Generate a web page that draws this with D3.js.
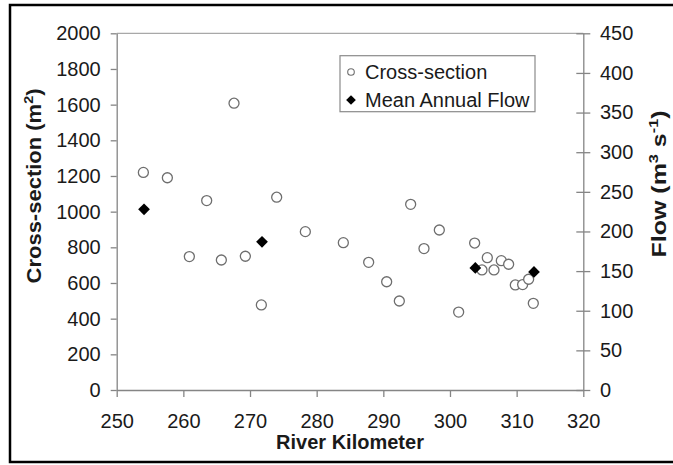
<!DOCTYPE html>
<meta charset="utf-8">
<style>
body { margin: 0; background: #fff; }
text { font-family: "Liberation Sans", Arial, sans-serif; fill: #1a1a1a; }
.axis text { font-size: 20px; }
.axis path, .axis line { stroke: #858585; stroke-width: 1.3px; }
.title { font-size: 20px; font-weight: bold; }
</style>
<body>
<svg width="673" height="465"></svg>
<script src="https://cdn.jsdelivr.net/npm/d3@7"></script>
<script>
// cross-section points (river km, area m2)
var csKm = [254.0, 257.6, 260.9, 263.5, 265.7, 267.6, 269.3, 271.7, 274.0, 278.3,
            284.0, 287.8, 290.5, 292.4, 294.1, 296.1, 298.4, 301.3, 303.7, 304.8,
            305.6, 306.6, 307.7, 308.8, 309.8, 310.9, 311.8, 312.5];
var csArea = [1220, 1190, 748, 1062, 729, 1608, 750, 477, 1081, 888,
              826, 716, 607, 499, 1041, 793, 897, 437, 824, 673,
              742, 673, 725, 705, 589, 591, 621, 486];
// mean annual flow (river km, m3/s) on right axis
var flowKm = [254.1, 271.8, 303.8, 312.6];
var flowVal = [228, 187, 154, 149];

var xTicks = [250, 260, 270, 280, 290, 300, 310, 320];
var leftTicks = [0, 200, 400, 600, 800, 1000, 1200, 1400, 1600, 1800, 2000];
var rightTicks = [0, 50, 100, 150, 200, 250, 300, 350, 400, 450];

var svg = d3.select("svg");
var fmt = d3.format("d");

var x = d3.scaleLinear().domain([250, 320]).range([116.7, 583.3]);
var yL = d3.scaleLinear().domain([0, 2000]).range([390, 33.3]);
var yR = d3.scaleLinear().domain([0, 450]).range([390, 33.3]);

// outer frame
svg.append("rect")
    .attr("x", 10).attr("y", 5).attr("width", 700).attr("height", 457)
    .attr("fill", "none").attr("stroke", "#000").attr("stroke-width", 2.5);

// top border of plot area
svg.append("line")
    .attr("x1", x(250)).attr("x2", x(320))
    .attr("y1", yL(2000)).attr("y2", yL(2000))
    .attr("stroke", "#a8a8a8").attr("stroke-width", 1.2);

svg.append("g").attr("class", "axis")
    .attr("transform", "translate(0," + yL(0) + ")")
    .call(d3.axisBottom(x).tickValues(xTicks).tickFormat(fmt)
        .tickSize(7).tickSizeOuter(0).tickPadding(17));

svg.append("g").attr("class", "axis")
    .attr("transform", "translate(" + x(250) + ",0)")
    .call(d3.axisLeft(yL).tickValues(leftTicks).tickFormat(fmt)
        .tickSize(6).tickSizeOuter(0).tickPadding(10));

var right = svg.append("g").attr("class", "axis")
    .attr("transform", "translate(" + x(320) + ",0)")
    .call(d3.axisRight(yR).tickValues(rightTicks).tickFormat(fmt)
        .tickSize(7).tickSizeOuter(0).tickPadding(9.7));
right.selectAll(".tick line").attr("x1", -7); // ticks cross the axis

// cross-section circles
svg.append("g").selectAll("circle")
    .data(csKm)
    .enter().append("circle")
    .attr("cx", function(d) { return x(d); })
    .attr("cy", function(d, i) { return yL(csArea[i]); })
    .attr("r", 5)
    .attr("fill", "#fff")
    .attr("stroke", "#6e6e6e")
    .attr("stroke-width", 1.3);

var diamond = d3.symbol().type(d3.symbolDiamond2).size(88);

svg.append("g").selectAll("path")
    .data(flowKm)
    .enter().append("path")
    .attr("d", diamond)
    .attr("transform", function(d, i) { return "translate(" + x(d) + "," + yR(flowVal[i]) + ")"; })
    .attr("fill", "#000");

// legend
var leg = svg.append("g");
leg.append("rect")
    .attr("x", 340).attr("y", 55.7).attr("width", 195).attr("height", 56)
    .attr("fill", "#fff").attr("stroke", "#8a8a8a").attr("stroke-width", 1.2);
leg.append("circle")
    .attr("cx", 351).attr("cy", 72).attr("r", 3.3)
    .attr("fill", "#fff").attr("stroke", "#6e6e6e").attr("stroke-width", 1.1);
leg.append("path")
    .attr("d", d3.symbol().type(d3.symbolDiamond2).size(60))
    .attr("transform", "translate(351,100)")
    .attr("fill", "#000");
leg.append("text").attr("x", 365).attr("y", 79).style("font-size", "20px").text("Cross-section");
leg.append("text").attr("x", 365).attr("y", 107).style("font-size", "20px").text("Mean Annual Flow");

// axis titles
svg.append("text").attr("class", "title")
    .attr("x", x(285)).attr("y", 449)
    .attr("text-anchor", "middle")
    .text("River Kilometer");

// rotated titles are a little stretched along their length in the original
var lt = svg.append("text").attr("class", "title")
    .attr("transform", "translate(41,186) rotate(-90) scale(1.1,1)")
    .attr("text-anchor", "middle");
lt.append("tspan").text("Cross-section (m");
lt.append("tspan").attr("dy", -8).style("font-size", "13px").text("2");
lt.append("tspan").attr("dy", 8).text(")");

var rt = svg.append("text").attr("class", "title")
    .attr("transform", "translate(666,184) rotate(-90) scale(1.25,1)")
    .attr("text-anchor", "middle");
rt.append("tspan").text("Flow (m");
rt.append("tspan").attr("dy", -8).style("font-size", "13px").text("3");
rt.append("tspan").attr("dy", 8).text(" s");
rt.append("tspan").attr("dy", -8).style("font-size", "13px").text("-1");
rt.append("tspan").attr("dy", 8).text(")");
</script>
</body>
